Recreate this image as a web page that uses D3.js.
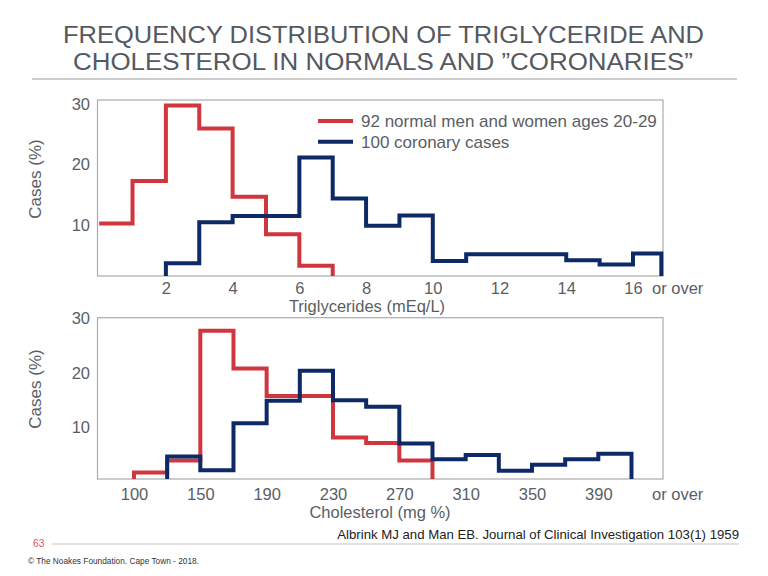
<!DOCTYPE html>
<html>
<head>
<meta charset="utf-8">
<script src="https://cdn.jsdelivr.net/npm/d3@7"></script>
<style>
  body { margin: 0; background: #fff; }
  svg { display: block; font-family: "Liberation Sans", Arial, sans-serif; }
  .tick text { fill: #5a5e64; font-size: 16.5px; }
</style>
</head>
<body>
<svg id="chart" width="768" height="576"></svg>
<script>
// triglycerides panel (mEq/L), bins of 1, last bin "or over"
var trigNormalEdges = [0, 1, 2, 3, 4, 5, 6, 7];
var trigNormal = [10.3, 17.3, 29.8, 26.0, 14.7, 8.5, 3.3];
var trigCoronaryEdges = [2, 3, 4, 5, 6, 7, 8, 9, 10, 11, 12, 13, 14, 15, 16, 16.85];
var trigCoronary = [3.7, 10.5, 11.5, 11.5, 21.2, 14.4, 9.9, 11.6, 4.1, 5.2, 5.2, 5.2, 4.2, 3.5, 5.3];
var trigTicks = [2, 4, 6, 8, 10, 12, 14, 16];

// cholesterol panel (mg %), bins of 20
var cholNormalEdges = [110, 130, 150, 170, 190, 210, 230, 250, 270, 290];
var cholNormal = [1.8, 4.0, 27.7, 20.8, 15.8, 15.8, 8.2, 7.2, 4.0];
var cholCoronaryEdges = [130, 150, 170, 190, 210, 230, 250, 270, 290, 310, 330, 350, 370, 390, 410];
var cholCoronary = [4.7, 2.2, 10.8, 14.9, 20.4, 15.0, 13.8, 7.1, 4.2, 5.0, 2.1, 3.2, 4.2, 5.2];
// the original figure labels the first tick "100" though it sits on the 110 edge
var cholTickValues = [110, 150, 190, 230, 270, 310, 350, 390];
var cholTickLabels = ["100", "150", "190", "230", "270", "310", "350", "390"];

var yTicks = [10, 20, 30];
var seriesNames = ["92 normal men and women ages 20-29", "100 coronary cases"];
var colors = ["#d0363d", "#0d2a67"];

var svg = d3.select("#chart");
var textCol = "#5a5e64";

// title
var title = svg.append("g").attr("fill", "#55595f").attr("font-size", 23)
  .style("white-space", "pre");
title.append("text").attr("x", 63).attr("y", 43)
  .attr("textLength", 641).attr("lengthAdjust", "spacingAndGlyphs")
  .text("FREQUENCY DISTRIBUTION OF TRIGLYCERIDE AND");
title.append("text").attr("x", 73).attr("y", 70)
  .attr("textLength", 620).attr("lengthAdjust", "spacingAndGlyphs")
  .text("CHOLESTEROL IN NORMALS  AND \u201DCORONARIES\u201D");
svg.append("line").attr("x1", 32).attr("x2", 737).attr("y1", 79).attr("y2", 79)
  .attr("stroke", "#bdbdbd").attr("stroke-width", 1.5);

function stepPath(x, y, edges, vals, base) {
  var pts = [];
  if (edges[0] > x.domain()[0] + 0.1) pts.push([edges[0], base]);
  vals.forEach(function(v, i) { pts.push([edges[i], v]); });
  pts.push([edges[edges.length - 1], base]);
  return d3.line()
    .x(function(d) { return x(d[0]); })
    .y(function(d) { return y(d[1]); })
    .curve(d3.curveStepAfter)(pts);
}

function panel(opt) {
  var x = d3.scaleLinear().domain(opt.xDomain).range([97.5, 663]);
  var y = d3.scaleLinear().domain(opt.yDomain).range([opt.bottom, opt.top]);
  var g = svg.append("g");

  g.append("rect")
    .attr("x", 97.5).attr("y", opt.top)
    .attr("width", 663 - 97.5).attr("height", opt.bottom - opt.top)
    .attr("fill", "none").attr("stroke", "#ababab").attr("stroke-width", 1.2);

  var xa = d3.axisBottom(x).tickValues(opt.ticks).tickSize(0).tickPadding(opt.pad)
    .tickFormat(function(d, i) { return opt.labels ? opt.labels[i] : d; });
  g.append("g").attr("transform", "translate(0," + opt.bottom + ")").call(xa)
    .call(function(s) { s.select(".domain").remove(); });

  var ya = d3.axisLeft(y).tickValues(yTicks).tickSize(0).tickPadding(7.5);
  g.append("g").attr("transform", "translate(97.5,0)").call(ya)
    .call(function(s) { s.select(".domain").remove(); });

  g.append("text").attr("x", 652).attr("y", opt.bottom + opt.pad + 6)
    .attr("dy", "0.35em").attr("fill", textCol).attr("font-size", 16.5)
    .text("or over");

  g.append("text").attr("x", opt.titleX).attr("y", opt.titleY)
    .attr("dy", "0.35em").attr("text-anchor", "middle")
    .attr("fill", textCol).attr("font-size", 16.5).text(opt.xTitle);

  g.append("text").attr("transform", "translate(35," + opt.yTitleY + ") rotate(-90)")
    .attr("dy", "0.35em").attr("text-anchor", "middle")
    .attr("fill", textCol).attr("font-size", 17).text("Cases (%)");

  var base = opt.yDomain[0];
  opt.series.forEach(function(s, i) {
    g.append("path")
      .attr("d", stepPath(x, y, s.edges, s.vals, base))
      .attr("fill", "none").attr("stroke", colors[i])
      .attr("stroke-width", 4).attr("stroke-linejoin", "miter");
  });
}

panel({
  top: 100, bottom: 276, xDomain: [-0.05, 16.9], yDomain: [1.6, 30.7],
  ticks: trigTicks, pad: 6.5, xTitle: "Triglycerides (mEq/L)", titleX: 367, titleY: 306,
  yTitleY: 179,
  series: [{edges: trigNormalEdges, vals: trigNormal}, {edges: trigCoronaryEdges, vals: trigCoronary}]
});

panel({
  top: 317.7, bottom: 479, xDomain: [88, 429], yDomain: [0.6, 30.1],
  ticks: cholTickValues, labels: cholTickLabels, pad: 9,
  xTitle: "Cholesterol (mg %)", titleX: 380, titleY: 512, yTitleY: 389,
  series: [{edges: cholNormalEdges, vals: cholNormal}, {edges: cholCoronaryEdges, vals: cholCoronary}]
});

// legend
var leg = svg.append("g");
seriesNames.forEach(function(name, i) {
  var ly = 121 + i * 20.7;
  leg.append("line").attr("x1", 318).attr("x2", 353).attr("y1", ly).attr("y2", ly)
    .attr("stroke", colors[i]).attr("stroke-width", 4);
  leg.append("text").attr("x", 361).attr("y", ly).attr("dy", "0.35em")
    .attr("fill", textCol).attr("font-size", 17).text(name);
});

// footer
svg.append("text").attr("x", 739).attr("y", 534).attr("dy", "0.35em")
  .attr("text-anchor", "end").attr("fill", "#222").attr("font-size", 13.2)
  .text("Albrink MJ and Man EB. Journal of Clinical Investigation 103(1) 1959");
svg.append("line").attr("x1", 52).attr("x2", 739).attr("y1", 544).attr("y2", 544)
  .attr("stroke", "#c4c4c4").attr("stroke-width", 1.2);
svg.append("text").attr("x", 33).attr("y", 543).attr("dy", "0.35em")
  .attr("fill", "#e2575b").attr("font-size", 10.5).text("63");
svg.append("text").attr("x", 28).attr("y", 561).attr("dy", "0.35em")
  .attr("fill", "#333").attr("font-size", 8.3)
  .text("\u00A9 The Noakes Foundation. Cape Town - 2018.");
</script>
</body>
</html>
